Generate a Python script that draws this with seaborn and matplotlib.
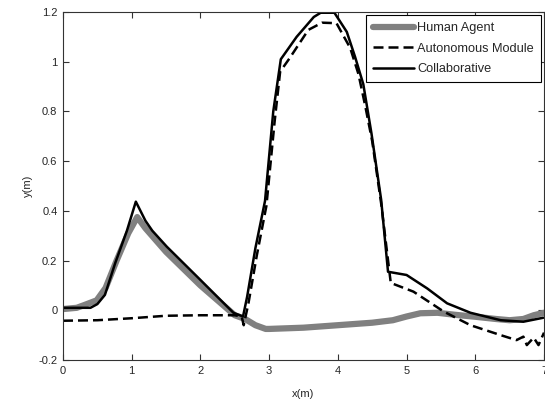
import numpy as np
import pandas as pd
import matplotlib
matplotlib.use('Agg')
import matplotlib.pyplot as plt
import seaborn as sns

# -------------------------------
# Data
# -------------------------------
human_x = [0.0, 0.2, 0.3, 0.49, 0.62, 0.78, 0.95, 1.08, 1.2, 1.5, 2.0, 2.5,
           2.65, 2.8, 2.95, 3.0, 3.5, 4.0, 4.5, 4.8, 5.0, 5.2, 5.45, 5.7,
           6.0, 6.3, 6.5, 6.7, 6.85, 7.0]
human_y = [0.005, 0.01, 0.02, 0.04, 0.09, 0.2, 0.31, 0.375, 0.33, 0.235, 0.10,
           -0.02, -0.035, -0.06, -0.075, -0.075, -0.07, -0.06, -0.05, -0.04,
           -0.025, -0.012, -0.01, -0.018, -0.026, -0.035, -0.04, -0.035,
           -0.02, -0.01]

auto_x = [0.0, 0.5, 1.0, 1.5, 2.0, 2.5, 2.6, 2.63, 2.7, 2.82, 2.96, 3.08,
          3.16, 3.3, 3.57, 3.77, 3.98, 4.18, 4.3, 4.4, 4.5, 4.63, 4.77,
          5.1, 5.54, 5.93, 6.37, 6.6, 6.7, 6.75, 6.85, 6.92, 7.0]
auto_y = [-0.042, -0.04, -0.032, -0.022, -0.02, -0.02, -0.025, -0.06, 0.03,
          0.22, 0.42, 0.76, 0.96, 1.015, 1.128, 1.157, 1.155, 1.055, 0.95,
          0.82, 0.68, 0.43, 0.11, 0.075, -0.005, -0.06, -0.1, -0.12, -0.106,
          -0.14, -0.11, -0.14, -0.09]

collab_x = [0.0, 0.4, 0.5, 0.61, 0.76, 0.93, 1.06, 1.2, 1.3, 1.51, 2.0, 2.48,
            2.62, 2.68, 2.8, 2.94, 3.06, 3.17, 3.4, 3.65, 3.75, 3.95, 4.13,
            4.25, 4.37, 4.49, 4.63, 4.73, 5.0, 5.3, 5.59, 5.93, 6.37, 6.7,
            6.99]
collab_y = [0.01, 0.01, 0.025, 0.062, 0.19, 0.32, 0.437, 0.36, 0.32, 0.256,
            0.122, -0.01, -0.025, 0.055, 0.25, 0.44, 0.8, 1.01, 1.1, 1.18,
            1.197, 1.197, 1.12, 1.02, 0.91, 0.71, 0.445, 0.155, 0.142, 0.088,
            0.028, -0.01, -0.04, -0.046, -0.03]

x_ticks = [0, 1, 2, 3, 4, 5, 6, 7]
x_tick_labels = ['0', '1', '2', '3', '4', '5', '6', '7']
y_ticks = [-0.2, 0, 0.2, 0.4, 0.6, 0.8, 1.0, 1.2]
y_tick_labels = ['-0.2', '0', '0.2', '0.4', '0.6', '0.8', '1', '1.2']

# -------------------------------
# Style
# -------------------------------
sns.set_style('white')
plt.rcParams['font.family'] = ['Liberation Sans', 'DejaVu Sans']
plt.rcParams['xtick.direction'] = 'in'
plt.rcParams['ytick.direction'] = 'in'

fig = plt.figure(figsize=(5.45, 4.0), dpi=100)
ax = fig.add_axes([63 / 545, 40 / 400, 481 / 545, 348 / 400])

df_h = pd.DataFrame({'x': human_x, 'y': human_y})
df_a = pd.DataFrame({'x': auto_x, 'y': auto_y})
df_c = pd.DataFrame({'x': collab_x, 'y': collab_y})

sns.lineplot(data=df_h, x='x', y='y', ax=ax, color='#808080', linewidth=4.5,
             sort=False, estimator=None, label='Human Agent')
sns.lineplot(data=df_a, x='x', y='y', ax=ax, color='black', linewidth=1.8,
             sort=False, estimator=None, label='Autonomous Module')
ax.lines[-1].set_dashes([4, 2])
sns.lineplot(data=df_c, x='x', y='y', ax=ax, color='black', linewidth=1.8,
             sort=False, estimator=None, label='Collaborative')

ax.set_xlim(0, 7)
ax.set_ylim(-0.2, 1.2)
ax.set_xticks(x_ticks)
ax.set_xticklabels(x_tick_labels)
ax.set_yticks(y_ticks)
ax.set_yticklabels(y_tick_labels)
ax.tick_params(axis='both', labelsize=8, length=4, width=0.8, color='#333333',
               top=True, right=True, bottom=True, left=True, pad=4)
for s in ax.spines.values():
    s.set_color('#333333')
    s.set_linewidth(0.8)

ax.set_xlabel('x(m)', fontsize=8, labelpad=10)
ax.set_ylabel('y(m)', fontsize=8, labelpad=4)

leg = ax.legend(loc='upper right', fontsize=9.2, frameon=True, fancybox=False,
                edgecolor='black', framealpha=1, handlelength=3.2,
                handletextpad=0.25, labelspacing=0.66, borderaxespad=0.26,
                borderpad=0.55)
leg.get_frame().set_linewidth(0.8)

fig.savefig('out.png', dpi=100)
